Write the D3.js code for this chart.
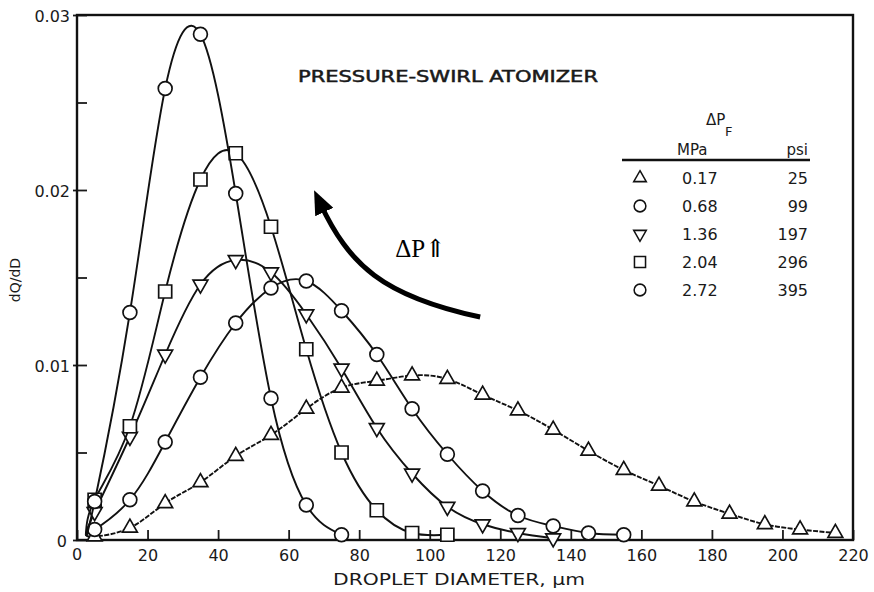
<!DOCTYPE html>
<html>
<head>
<meta charset="utf-8">
<script src="https://cdn.jsdelivr.net/npm/d3@7/dist/d3.min.js"></script>
<style>
  body { margin: 0; background: #fff; }
  svg text { font-family: "DejaVu Sans", sans-serif; fill: #1a1a1a; }
</style>
</head>
<body>
<div id="chart"></div>
<script>
// dQ/dD, one value per plotted symbol (diameter in um)
var diameters = [5, 15, 25, 35, 45, 55, 65, 75, 85, 95, 105, 115, 125, 135, 145, 155, 165, 175, 185, 195, 205, 215];
var q017 = [0.0002, 0.0007, 0.0021, 0.0033, 0.0048, 0.0060, 0.0075, 0.0087, 0.0091, 0.0094, 0.0092, 0.0083,
            0.0074, 0.0063, 0.0051, 0.0040, 0.0031, 0.0022, 0.0015, 0.0009, 0.0006, 0.0004];
var q068 = [0.0006, 0.0023, 0.0056, 0.0093, 0.0124, 0.0144, 0.0148, 0.0131, 0.0106, 0.0075, 0.0049, 0.0028,
            0.0014, 0.0008, 0.0004, 0.0003];
var q136 = [0.0016, 0.0059, 0.0106, 0.0146, 0.0160, 0.0153, 0.0129, 0.0098, 0.0064, 0.0038, 0.0019, 0.0009,
            0.0004, 0.0001];
var q204 = [0.0023, 0.0065, 0.0142, 0.0206, 0.0221, 0.0179, 0.0109, 0.0050, 0.0017, 0.0004, 0.0003];
var q272 = [0.0022, 0.0130, 0.0258, 0.0289, 0.0198, 0.0081, 0.0020, 0.0003];
// all curves leave the axis near the origin
var curveStart = [2.5, 0.0003];

var pressMPa = ["0.17", "0.68", "1.36", "2.04", "2.72"];
var pressPsi = ["25", "99", "197", "296", "395"];
var yTicks = [0, 0.01, 0.02, 0.03];
var yMinor = [0.005, 0.015, 0.025];
var xTicks = [0, 20, 40, 60, 80, 100, 120, 140, 160, 180, 200, 220];

var series = [
  {values: q017, shape: "up", dash: "5,1.4"},
  {values: q068, shape: "circle"},
  {values: q136, shape: "down"},
  {values: q204, shape: "square"},
  {values: q272, shape: "circle"}
];

var width = 874, height = 592;
var margin = {left: 77, top: 15, right: 21, bottom: 52};
var iw = width - margin.left - margin.right;
var ih = height - margin.top - margin.bottom;

var svg = d3.select("#chart").append("svg")
    .attr("width", width)
    .attr("height", height);

var g = svg.append("g")
    .attr("transform", "translate(" + margin.left + "," + margin.top + ")");

var x = d3.scaleLinear().domain([0, 220]).range([0, iw]);
var y = d3.scaleLinear().domain([0, 0.03]).range([ih, 0]);

// axes, ticks pointing into the plot
var yAxis = g.append("g")
    .call(d3.axisLeft(y).tickValues(yTicks).tickSizeInner(-10).tickSizeOuter(0).tickPadding(7)
      .tickFormat(function (d) { return d === 0 ? "0" : d.toFixed(2); }));
yAxis.selectAll(".tick line").attr("x1", -4).attr("x2", 10);
g.append("g")
    .call(d3.axisLeft(y).tickValues(yMinor).tickSizeInner(-10).tickSizeOuter(0).tickFormat(""));

var xAxis = g.append("g")
    .attr("transform", "translate(0," + ih + ")")
    .call(d3.axisBottom(x).tickValues(xTicks).tickSizeInner(-10).tickSizeOuter(0).tickPadding(10)
      .tickFormat(function (d) { return d === 0 ? "" : d; }));

g.selectAll(".domain").remove();
g.selectAll(".tick line").attr("stroke", "#1a1a1a").attr("stroke-width", 1.8);
g.selectAll(".tick text").style("font-size", "16px").attr("fill", "#1a1a1a");
yAxis.selectAll(".tick text").attr("dy", "0.42em");
yAxis.selectAll(".tick").filter(function (d) { return d === 0; }).select("text").attr("x", -10);

// the zero label under the corner
g.append("text")
    .attr("x", x(0)).attr("y", ih + 20)
    .attr("text-anchor", "middle")
    .style("font-size", "16px")
    .text("0");

// frame
g.append("rect")
    .attr("width", iw).attr("height", ih)
    .attr("fill", "none")
    .attr("stroke", "#111")
    .attr("stroke-width", 2.4);

// curves and symbols
var line = d3.line()
    .x(function (d) { return x(d[0]); })
    .y(function (d) { return y(d[1]); })
    .curve(d3.curveNatural);

function symbolPath(shape) {
  if (shape === "circle") return d3.symbol(d3.symbolCircle, 150)();
  if (shape === "square") return d3.symbol(d3.symbolSquare, 170)();
  return d3.symbol(d3.symbolTriangle, 95)();
}

series.forEach(function (s) {
  var pts = s.values.map(function (v, i) { return [diameters[i], v]; });
  g.append("path")
      .datum([curveStart].concat(pts))
      .attr("d", line)
      .attr("fill", "none")
      .attr("stroke", "#111")
      .attr("stroke-width", 1.9)
      .attr("stroke-dasharray", s.dash || null);

  g.selectAll(null)
      .data(pts)
      .enter()
      .append("path")
      .attr("d", symbolPath(s.shape))
      .attr("transform", function (d) {
        return "translate(" + x(d[0]) + "," + y(d[1]) + ")" + (s.shape === "down" ? " rotate(180)" : "");
      })
      .attr("fill", "#fff")
      .attr("stroke", "#111")
      .attr("stroke-width", 1.7);
});

// labels
g.append("text")
    .attr("x", 221).attr("y", 67)
    .attr("textLength", 300).attr("lengthAdjust", "spacingAndGlyphs")
    .style("font-size", "15px")
    .style("stroke", "#1a1a1a").style("stroke-width", 0.5)
    .text("PRESSURE-SWIRL ATOMIZER");

svg.append("text")
    .attr("x", 333).attr("y", 585)
    .attr("textLength", 252).attr("lengthAdjust", "spacingAndGlyphs")
    .style("font-size", "16px")
    .text("DROPLET DIAMETER, \u03bcm");

svg.append("text")
    .attr("transform", "translate(20,280) rotate(-90)")
    .attr("text-anchor", "middle")
    .style("font-size", "14px")
    .text("dQ/dD");

// legend table
var leg = svg.append("g");
leg.append("text").attr("x", 706).attr("y", 125).style("font-size", "15px").text("\u0394P");
leg.append("text").attr("x", 725).attr("y", 136).style("font-size", "13px").text("F");
leg.append("text").attr("x", 677).attr("y", 155).style("font-size", "15px").text("MPa");
leg.append("text").attr("x", 808).attr("y", 155).attr("text-anchor", "end").style("font-size", "15px").text("psi");
leg.append("line").attr("x1", 622).attr("x2", 810).attr("y1", 160).attr("y2", 160)
    .attr("stroke", "#111").attr("stroke-width", 2.6);

var rowY = d3.scaleLinear().domain([0, 4]).range([178, 290]);
series.forEach(function (s, i) {
  leg.append("path")
      .attr("d", symbolPath(s.shape))
      .attr("transform", "translate(640," + rowY(i) + ") scale(0.85)" + (s.shape === "down" ? " rotate(180)" : ""))
      .attr("fill", "#fff").attr("stroke", "#111").attr("stroke-width", 1.8);
  leg.append("text").attr("x", 682).attr("y", rowY(i) + 6).style("font-size", "16px").text(pressMPa[i]);
  leg.append("text").attr("x", 808).attr("y", rowY(i) + 6).attr("text-anchor", "end")
      .style("font-size", "16px").text(pressPsi[i]);
});

// curved arrow showing the trend with rising pressure (data units)
var arrowPts = [[114.3, 0.01274], [86.5, 0.01394], [77.1, 0.01574], [68.9, 0.01926]];
svg.append("defs").append("marker")
    .attr("id", "head")
    .attr("markerUnits", "userSpaceOnUse")
    .attr("viewBox", "0 0 24 20")
    .attr("markerWidth", 24).attr("markerHeight", 20)
    .attr("refX", 10).attr("refY", 10)
    .attr("orient", "auto")
    .append("path")
    .attr("d", "M0,0 L24,10 L0,20 Z")
    .attr("fill", "#000");

var ap = arrowPts.map(function (p) { return [x(p[0]), y(p[1])]; });
g.append("path")
    .attr("d", "M" + ap[0] + " C" + ap[1] + " " + ap[2] + " " + ap[3])
    .attr("fill", "none")
    .attr("stroke", "#000")
    .attr("stroke-width", 5)
    .attr("marker-end", "url(#head)");

g.append("text")
    .attr("x", x(90.2)).attr("y", y(0.01617))
    .style("font-family", "'Liberation Serif', 'DejaVu Serif', serif")
    .style("font-size", "25px")
    .style("fill", "#000")
    .text("\u0394P\u21d1");
</script>
</body>
</html>
